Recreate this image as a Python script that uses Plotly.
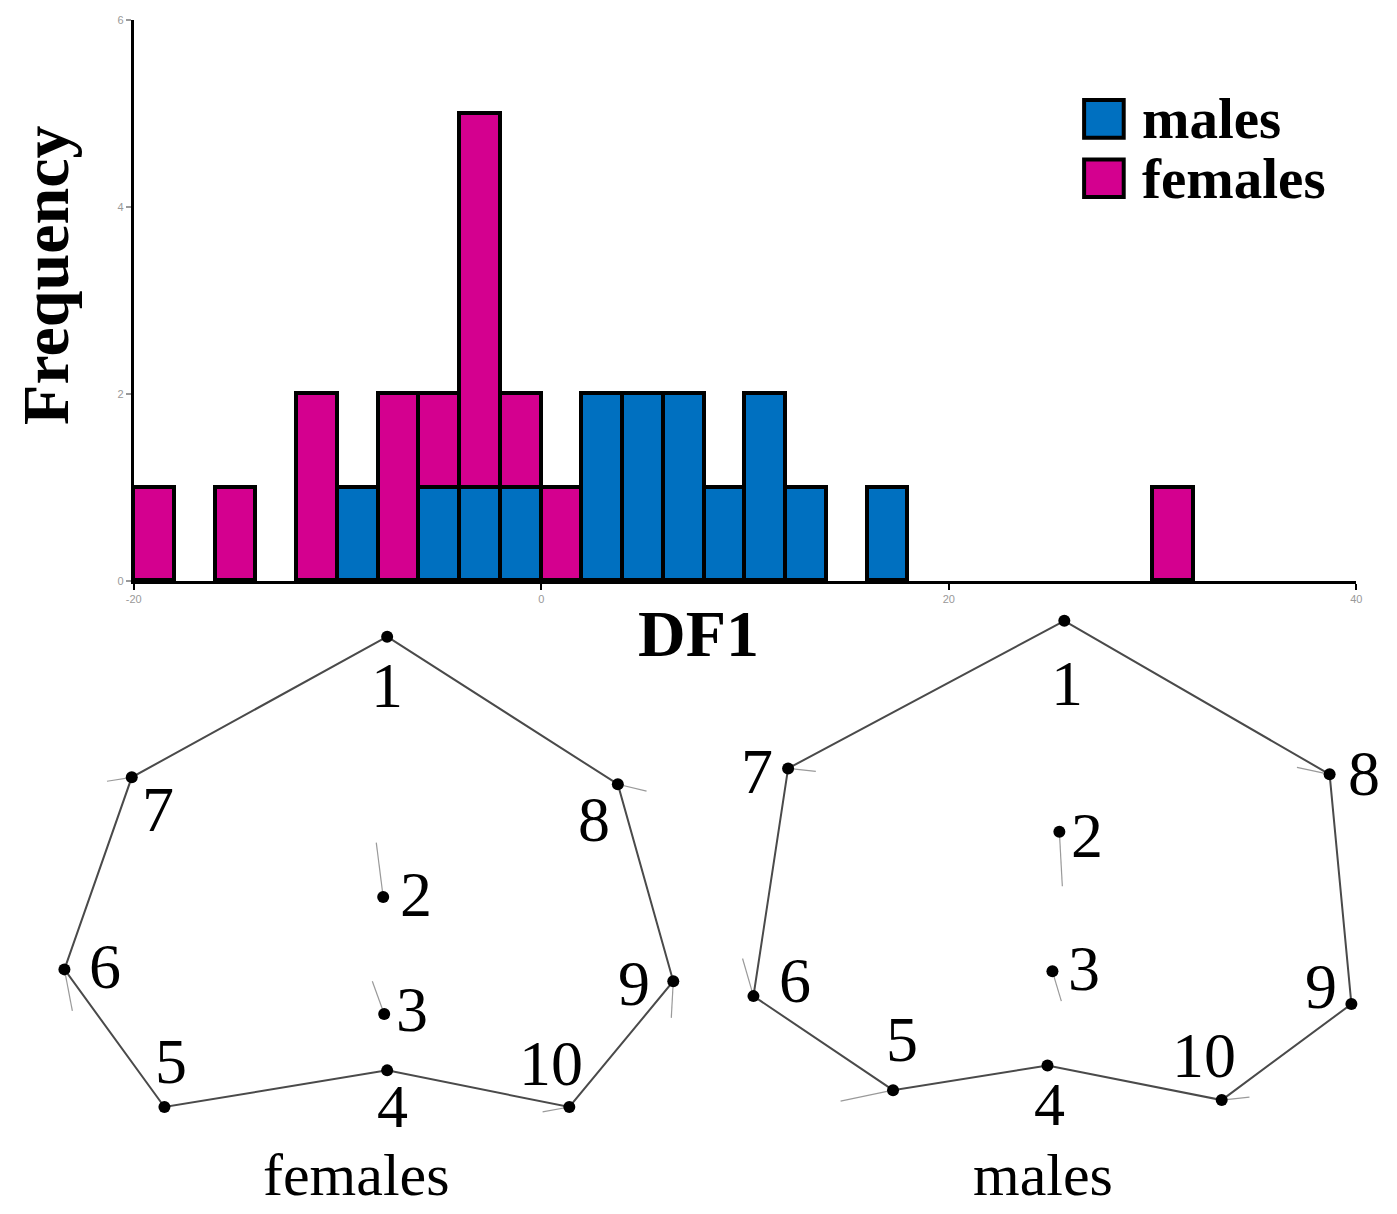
import plotly.graph_objects as go

# ---------------- histogram data (bin width 2) ----------------
bin_starts = [-20, -18, -16, -14, -12, -10, -8, -6, -4, -2, 0, 2, 4, 6, 8, 10, 12, 14, 16, 18, 20, 22, 24, 26, 28, 30]
males      = [0, 0, 0, 0, 0, 1, 0, 1, 1, 1, 0, 2, 2, 2, 1, 2, 1, 0, 1, 0, 0, 0, 0, 0, 0, 0]
females    = [1, 0, 1, 0, 2, 0, 2, 1, 4, 1, 1, 0, 0, 0, 0, 0, 0, 0, 0, 0, 0, 0, 0, 0, 0, 1]
bin_width = 2
x_ticks = [-20, 0, 20, 40]
x_tick_labels = ["-20", "0", "20", "40"]
y_ticks = [0, 2, 4, 6]
y_tick_labels = ["0", "2", "4", "6"]

# ---------------- landmark configurations (image-like units) ----------------
landmark_ids = ["1", "2", "3", "4", "5", "6", "7", "8", "9", "10"]
fem_x = [383, 379, 380, 383, 158, 57, 125, 616, 672, 567]
fem_y = [637, 900, 1018, 1075, 1112, 973, 779, 786, 985, 1112]
male_x = [1067, 1062, 1055, 1050, 894, 753, 788, 1335, 1357, 1226]
male_y = [621, 834, 975, 1070, 1095, 1000, 770, 776, 1008, 1105]
outline_order = [1, 8, 9, 10, 4, 5, 6, 7, 1]   # landmark numbers joined by the outline

# deformation vectors (end points for each landmark, None = no vector)
fem_vec_x = [None, 372, 368, None, None, 65, 100, 645, 670, 540]
fem_vec_y = [None, 845, 985, None, None, 1015, 783, 793, 1022, 1117]
male_vec_x = [None, 1065, 1064, None, 841, 742, 816, 1302, None, 1254]
male_vec_y = [None, 889, 1005, None, 1106, 962, 773, 769, None, 1102]

# label positions for landmark numbers
fem_lab_x = [383, 412, 408, 388, 165, 98, 152, 592, 632, 548]
fem_lab_y = [686, 897, 1014, 1111, 1066, 970, 812, 822, 987, 1068]
male_lab_x = [1070, 1090, 1087, 1052, 903, 795, 757, 1370, 1326, 1208]
male_lab_y = [684, 838, 972, 1109, 1044, 984, 773, 775, 990, 1060]
group_names = ["females", "males"]
group_label_x = [352, 1045]
group_label_y = [1181, 1181]

MALE_C = "#0070C0"
FEM_C = "#D4008F"
W, H = 1397, 1214

fig = go.Figure()
centers = [b + bin_width / 2 for b in bin_starts]
fig.add_trace(go.Bar(x=centers, y=[v if v else None for v in males], width=bin_width, name="males",
                     marker=dict(color=MALE_C, line=dict(color="black", width=3.5)),
                     showlegend=False))
fig.add_trace(go.Bar(x=centers, y=[v if v else None for v in females], width=bin_width, name="females",
                     marker=dict(color=FEM_C, line=dict(color="black", width=3.5)),
                     showlegend=False))

def add_config(xs, ys, vx, vy):
    for i in range(len(xs)):
        if vx[i] is not None:
            fig.add_trace(go.Scatter(x=[xs[i], vx[i]], y=[ys[i], vy[i]], mode="lines",
                                     line=dict(color="#9a9a9a", width=1.2),
                                     xaxis="x2", yaxis="y2", showlegend=False, hoverinfo="skip"))
    ox = [xs[k - 1] for k in outline_order]
    oy = [ys[k - 1] for k in outline_order]
    fig.add_trace(go.Scatter(x=ox, y=oy, mode="lines", line=dict(color="#4a4a4a", width=2),
                             xaxis="x2", yaxis="y2", showlegend=False, hoverinfo="skip"))
    fig.add_trace(go.Scatter(x=xs, y=ys, mode="markers", marker=dict(color="black", size=12),
                             xaxis="x2", yaxis="y2", showlegend=False))

add_config(fem_x, fem_y, fem_vec_x, fem_vec_y)
add_config(male_x, male_y, male_vec_x, male_vec_y)

annotations = []
for lx, ly in ((fem_lab_x, fem_lab_y), (male_lab_x, male_lab_y)):
    for i, t in enumerate(landmark_ids):
        annotations.append(dict(x=lx[i], y=ly[i], xref="x2", yref="y2", text=t, showarrow=False,
                                font=dict(family="Liberation Serif", size=64 if t != "4" else 62,
                                          color="black"),
                                xanchor="center", yanchor="middle", borderpad=0))
for i, g in enumerate(group_names):
    annotations.append(dict(x=group_label_x[i], y=group_label_y[i], xref="x2", yref="y2", text=g,
                            showarrow=False, font=dict(family="Liberation Serif", size=60, color="black"),
                            xanchor="center", yanchor="middle", borderpad=0))

annotations.append(dict(x=697, y=634, xref="x2", yref="y2", text="<b>DF1</b>", showarrow=False,
                        font=dict(family="Liberation Serif", size=66, color="black"),
                        xanchor="center", yanchor="middle"))
annotations.append(dict(x=38, y=272, xref="x2", yref="y2", text="<b>Frequency</b>", showarrow=False,
                        textangle=-90,
                        font=dict(family="Liberation Serif", size=66, color="black"),
                        xanchor="center", yanchor="middle"))

legend_items = [("males", MALE_C, 114), ("females", FEM_C, 174)]
shapes = []
for name, col, yc in legend_items:
    shapes.append(dict(type="rect", xref="x2", yref="y2", x0=1087, x1=1127, y0=yc - 19, y1=yc + 19,
                       fillcolor=col, line=dict(color="black", width=4)))
    annotations.append(dict(x=1143, y=yc, xref="x2", yref="y2", text="<b>" + name + "</b>",
                            showarrow=False, xanchor="left", yanchor="middle",
                            font=dict(family="Liberation Serif", size=57, color="black")))

x0px, x1px = 127, 1362
y0px, y1px = 581, 14
fig.update_layout(
    width=W, height=H, barmode="stack", bargap=0,
    margin=dict(l=0, r=0, t=0, b=0),
    paper_bgcolor="white", plot_bgcolor="rgba(0,0,0,0)",
    xaxis=dict(domain=[x0px / W, x1px / W], range=[-20, 40], tickvals=x_ticks, ticktext=x_tick_labels,
               showline=True, linecolor="black", linewidth=3, ticks="outside", ticklen=6,
               tickwidth=2, tickcolor="black", showgrid=False, zeroline=False,
               tickfont=dict(family="Liberation Sans", size=11, color="#999")),
    yaxis=dict(domain=[1 - y0px / H, 1 - y1px / H], range=[0, 6], tickvals=y_ticks, ticktext=y_tick_labels,
               showline=True, linecolor="black", linewidth=3, ticks="outside", ticklen=5,
               tickwidth=2, tickcolor="#999", showgrid=False, zeroline=False,
               tickfont=dict(family="Liberation Sans", size=11, color="#999")),
    xaxis2=dict(domain=[0, 1], range=[0, W], visible=False, anchor="y2"),
    yaxis2=dict(domain=[0, 1], range=[H, 0], visible=False, anchor="x2"),
    annotations=annotations, shapes=shapes,
)
fig.write_html("out.html")
